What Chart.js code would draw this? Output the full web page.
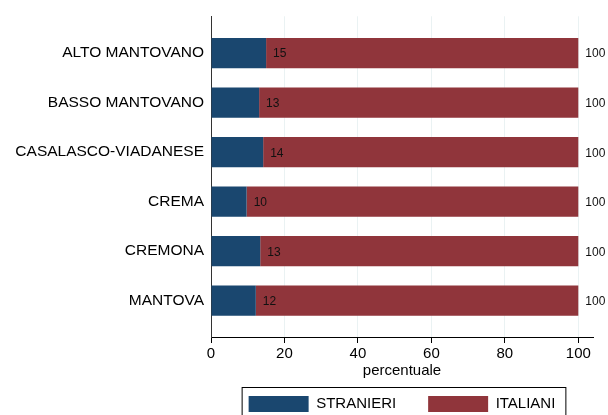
<!DOCTYPE html>
<html>
<head>
<meta charset="utf-8">
<script src="https://cdn.jsdelivr.net/npm/chart.js@4.4.1/dist/chart.umd.min.js"></script>
<style>
  body { margin: 0; background: #fff; }
</style>
</head>
<body>
<canvas id="chartAree" width="608" height="415"></canvas>
<script>
const categories = ['ALTO MANTOVANO', 'BASSO MANTOVANO', 'CASALASCO-VIADANESE', 'CREMA', 'CREMONA', 'MANTOVA'];
const stranieri = [15.0, 13.1, 14.2, 9.7, 13.4, 12.2];
const italiani = [85.0, 86.9, 85.8, 90.3, 86.6, 87.8];
const totals = [100, 100, 100, 100, 100, 100];
const xTicks = [0, 20, 40, 60, 80, 100];

Chart.defaults.font.family = "'Liberation Sans', Arial, sans-serif";
Chart.defaults.color = '#000';

// value labels next to the bar ends
const barLabels = {
  id: 'barLabels',
  afterDatasetsDraw(chart) {
    const ctx = chart.ctx;
    ctx.save();
    ctx.font = "12px 'Liberation Sans', Arial, sans-serif";
    ctx.fillStyle = '#111';
    ctx.textBaseline = 'middle';
    ctx.textAlign = 'left';
    chart.getDatasetMeta(0).data.forEach((bar, i) => {
      ctx.fillText(Math.round(stranieri[i]), bar.x + 7, bar.y + 1);
    });
    chart.getDatasetMeta(1).data.forEach((bar, i) => {
      ctx.fillText(totals[i], bar.x + 7, bar.y + 1);
    });
    ctx.restore();
  }
};

// frame round the legend
const legendFrame = {
  id: 'legendFrame',
  afterDraw(chart) {
    const boxes = chart.legend.legendHitBoxes;
    if (!boxes || !boxes.length) return;
    let left = Math.min(...boxes.map(b => b.left));
    let right = Math.max(...boxes.map(b => b.left + b.width));
    let top = Math.min(...boxes.map(b => b.top));
    const ctx = chart.ctx;
    ctx.save();
    ctx.strokeStyle = '#000';
    ctx.lineWidth = 1;
    ctx.strokeRect(left - 6.5, top - 8.5, right - left + 17, 60);
    ctx.restore();
  }
};

new Chart(document.getElementById('chartAree').getContext('2d'), {
  type: 'bar',
  data: {
    datasets: [
      {
        label: 'STRANIERI',
        data: stranieri.map((v, i) => ({ x: v, y: i })),
        backgroundColor: '#1a476f',
        borderWidth: 0,
        barPercentage: 0.61,
        categoryPercentage: 1
      },
      {
        label: 'ITALIANI',
        data: italiani.map((v, i) => ({ x: v, y: i })),
        backgroundColor: '#90353b',
        borderWidth: 0,
        barPercentage: 0.61,
        categoryPercentage: 1
      }
    ]
  },
  options: {
    indexAxis: 'y',
    responsive: false,
    animation: false,
    layout: { padding: { top: 16, right: 15, bottom: -7, left: 0 } },
    plugins: {
      tooltip: { enabled: false },
      legend: {
        position: 'bottom',
        fullSize: false,
        labels: {
          boxWidth: 60,
          boxHeight: 16,
          padding: 32,
          color: '#000',
          font: { size: 15 }
        }
      }
    },
    scales: {
      x: {
        type: 'linear',
        stacked: true,
        min: 0,
        max: 104,
        afterFit: (scale) => { scale.height = 27; },
        afterBuildTicks: (scale) => { scale.ticks = xTicks.map(v => ({ value: v })); },
        ticks: { font: { size: 15 }, color: '#000', padding: 2, includeBounds: false },
        grid: { color: '#eaf2f3', tickColor: '#000', tickLength: 6 },
        border: { color: '#000', width: 1 },
        title: {
          display: true,
          text: 'percentuale',
          color: '#000',
          font: { size: 15 },
          padding: { top: 0, bottom: -16 }
        }
      },
      y: {
        type: 'linear',
        stacked: true,
        reverse: true,
        offset: false,
        min: -0.745,
        max: 5.733,
        afterFit: (scale) => { scale.width = 211; },
        afterBuildTicks: (scale) => { scale.ticks = categories.map((c, i) => ({ value: i })); },
        ticks: {
          font: { size: 15.5 },
          color: '#000',
          padding: 7,
          callback: (value) => categories[value]
        },
        grid: { display: false, drawTicks: false },
        border: { color: '#333', width: 1 }
      }
    }
  },
  plugins: [barLabels, legendFrame]
});
</script>
</body>
</html>
